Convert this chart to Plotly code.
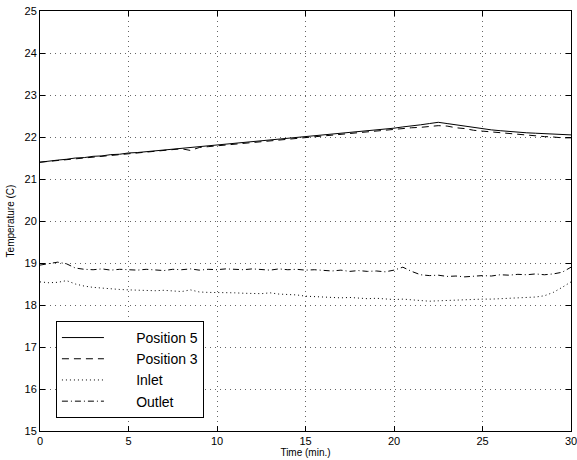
import plotly.graph_objects as go

time_min = [i * 0.5 for i in range(61)]

position5 = [21.40, 21.43, 21.45, 21.47, 21.50, 21.51, 21.54, 21.55, 21.58, 21.59,
             21.62, 21.63, 21.65, 21.67, 21.69, 21.71, 21.73, 21.74, 21.77, 21.79,
             21.81, 21.83, 21.85, 21.87, 21.89, 21.91, 21.93, 21.95, 21.97, 21.99,
             22.01, 22.03, 22.05, 22.07, 22.09, 22.11, 22.13, 22.15, 22.17, 22.19,
             22.21, 22.24, 22.26, 22.29, 22.32, 22.35, 22.32, 22.29, 22.26, 22.22,
             22.19, 22.17, 22.15, 22.13, 22.12, 22.10, 22.09, 22.08, 22.07, 22.06,
             22.05]

position3 = [21.40, 21.42, 21.44, 21.47, 21.48, 21.51, 21.52, 21.55, 21.56, 21.59,
             21.60, 21.63, 21.64, 21.66, 21.68, 21.70, 21.72, 21.68, 21.75, 21.77,
             21.79, 21.80, 21.83, 21.84, 21.87, 21.88, 21.91, 21.92, 21.95, 21.96,
             21.99, 22.00, 22.03, 22.04, 22.07, 22.08, 22.11, 22.12, 22.15, 22.16,
             22.18, 22.20, 22.22, 22.23, 22.25, 22.27, 22.26, 22.22, 22.20, 22.16,
             22.14, 22.12, 22.10, 22.08, 22.07, 22.04, 22.03, 22.01, 22.00, 21.98,
             21.98]

inlet = [18.55, 18.53, 18.54, 18.58, 18.50, 18.45, 18.42, 18.40, 18.38, 18.37,
         18.36, 18.35, 18.35, 18.34, 18.35, 18.33, 18.32, 18.36, 18.31, 18.30,
         18.30, 18.29, 18.29, 18.28, 18.28, 18.27, 18.29, 18.26, 18.25, 18.24,
         18.21, 18.20, 18.19, 18.18, 18.17, 18.18, 18.16, 18.15, 18.16, 18.14,
         18.13, 18.14, 18.12, 18.10, 18.09, 18.10, 18.11, 18.12, 18.12, 18.13,
         18.14, 18.14, 18.15, 18.15, 18.16, 18.17, 18.19, 18.22, 18.30, 18.42,
         18.55]

outlet = [18.95, 18.98, 19.02, 18.98, 18.88, 18.85, 18.84, 18.86, 18.83, 18.85,
          18.84, 18.83, 18.85, 18.84, 18.82, 18.85, 18.84, 18.86, 18.83, 18.85,
          18.84, 18.86, 18.85, 18.84, 18.86, 18.85, 18.83, 18.86, 18.84, 18.85,
          18.83, 18.84, 18.82, 18.81, 18.83, 18.80, 18.82, 18.80, 18.81, 18.79,
          18.83, 18.90, 18.80, 18.72, 18.70, 18.71, 18.68, 18.69, 18.67, 18.68,
          18.70, 18.69, 18.72, 18.71, 18.73, 18.72, 18.74, 18.72, 18.74, 18.78,
          18.90]

series = [
    ("Position 5", position5, "solid"),
    ("Position 3", position3, "7px,5px"),
    ("Inlet", inlet, "1px,3px"),
    ("Outlet", outlet, "6px,3px,1px,3px"),
]

x_ticks = [0, 5, 10, 15, 20, 25, 30]
y_ticks = [15, 16, 17, 18, 19, 20, 21, 22, 23, 24, 25]

FONT = "Liberation Sans, Arial, Helvetica, sans-serif"
PAD = "\u00a0" * 7

fig = go.Figure()
for name, vals, dash in series:
    fig.add_trace(go.Scatter(x=time_min, y=vals, mode="lines", name=PAD + name,
                             line=dict(color="black", width=1, dash=dash)))

axis_common = dict(
    showline=True, linecolor="black", linewidth=1, mirror="ticks",
    ticks="inside", ticklen=5, tickcolor="black", tickwidth=1,
    showgrid=True, gridcolor="#666666", griddash="1px,4px", gridwidth=1,
    zeroline=False, automargin=False, ticklabeloverflow="allow",
    tickfont=dict(family=FONT, size=11, color="black"),
)

fig.update_xaxes(range=[0, 30], tickvals=x_ticks,
                 title=dict(text="Time (min.)", font=dict(family=FONT, size=10, color="black"), standoff=0),
                 **axis_common)
fig.update_yaxes(range=[15, 25], tickvals=y_ticks,
                 title=dict(text="Temperature (C)", font=dict(family=FONT, size=10, color="black"), standoff=8),
                 **axis_common)

fig.update_layout(
    width=577, height=460,
    margin=dict(l=40, r=6, t=11, b=29),
    plot_bgcolor="white", paper_bgcolor="white",
    font=dict(family=FONT, color="black"),
    legend=dict(x=0.03, y=0.262, xanchor="left", yanchor="top",
                bgcolor="white", bordercolor="black", borderwidth=1,
                font=dict(family=FONT, size=14, color="black"),
                itemwidth=42, tracegroupgap=0),
)

fig.write_html("out.html", config={"displayModeBar": False},
               post_script="document.body.style.margin='0';")
